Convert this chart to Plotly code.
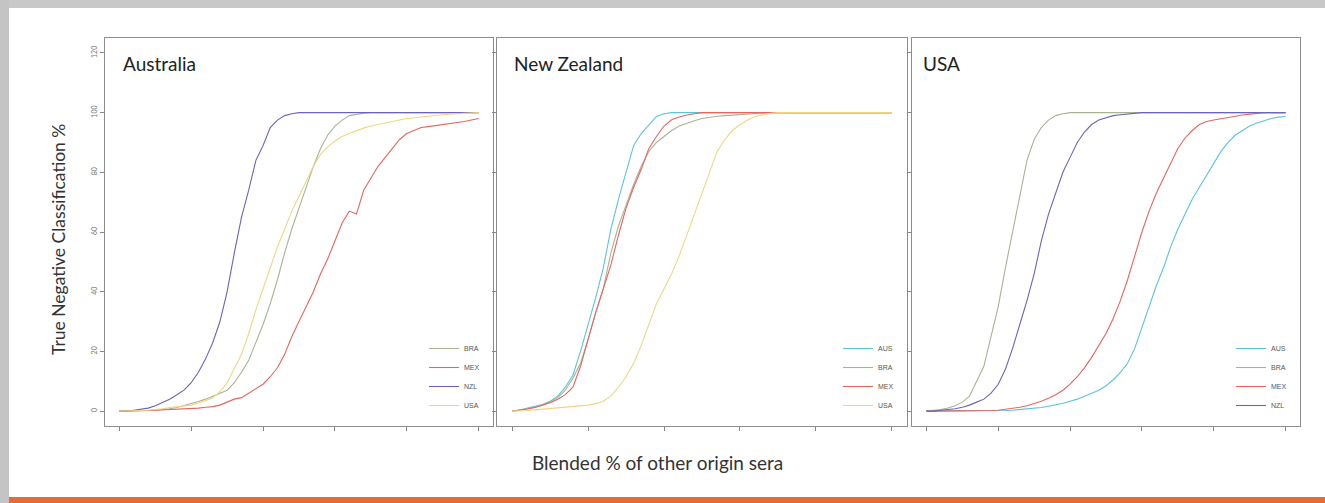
import plotly.graph_objects as go

# ---------------- data ----------------
x_pct = list(range(0, 101, 2))

# Australia panel
aus_bra = [0, 0, 0, 0, 0.2, 0.3, 0.5, 0.8, 1.2, 1.8, 2.5, 3.2, 4, 5, 6, 7, 9.5, 13, 17, 23,
           29, 36, 44, 53, 61, 68, 75, 82, 88, 92.5, 95.5, 97.5, 99, 99.5, 99.8, 100, 100, 100, 100, 100,
           100, 100, 100, 100, 100, 100, 100, 100, 100, 100, 100]
aus_mex = [0, 0, 0, 0.1, 0.2, 0.3, 0.4, 0.5, 0.6, 0.7, 0.8, 1, 1.3, 1.5, 2, 3, 4, 4.5, 6, 7.5,
           9, 11.5, 14.5, 19, 25, 30, 35, 40, 46, 51, 57, 63, 67, 66, 74, 78, 82, 85, 88, 91,
           93, 94, 95, 95.3, 95.6, 96, 96.3, 96.6, 97, 97.5, 98]
aus_nzl = [0, 0, 0.3, 0.7, 1, 1.8, 2.8, 4, 5.5, 7, 9.5, 13, 17.5, 23, 30, 40, 53, 65, 74, 84,
           89, 95, 97.5, 99, 99.6, 100, 100, 100, 100, 100, 100, 100, 100, 100, 100, 100, 100, 100, 100, 100,
           100, 100, 100, 100, 100, 100, 100, 100, 100, 100, 100]
aus_usa = [0, 0, 0, 0.2, 0.3, 0.5, 0.8, 1.2, 1.5, 1.8, 2, 2.8, 3.5, 4.5, 6.5, 9.5, 14, 19, 26, 34,
           41, 48, 55, 61, 67, 72, 77, 82, 86, 88.5, 90.5, 92, 93, 94, 94.8, 95.5, 96, 96.5, 97, 97.6,
           98, 98.3, 98.6, 98.9, 99.1, 99.3, 99.5, 99.6, 99.7, 99.8, 100]

# New Zealand panel
nz_aus = [0, 0.3, 1, 1.5, 2.2, 3.3, 5, 8, 12, 20, 29, 38, 48, 61, 71, 80, 89, 93, 96, 98.7,
          99.6, 100, 100, 100, 100, 100, 100, 100, 100, 100, 100, 100, 100, 100, 100, 100, 100, 100, 100, 100,
          100, 100, 100, 100, 100, 100, 100, 100, 100, 100, 100]
nz_bra = [0, 0.3, 0.8, 1.3, 2, 3, 4.5, 7, 11, 16, 24, 33, 41, 53, 62, 69, 76, 82, 87, 90,
          92, 94, 95.5, 96.5, 97.3, 98, 98.5, 98.8, 99, 99.2, 99.4, 99.6, 99.7, 99.8, 100, 100, 100, 100, 100, 100,
          100, 100, 100, 100, 100, 100, 100, 100, 100, 100, 100]
nz_mex = [0, 0.3, 0.7, 1.2, 2, 2.8, 4, 5.5, 8, 15, 24, 33, 41, 49, 59, 68, 75, 81, 88, 92,
          95.5, 97.6, 98.5, 99.2, 99.6, 100, 100, 100, 100, 100, 100, 100, 100, 100, 100, 100, 100, 100, 100, 100,
          100, 100, 100, 100, 100, 100, 100, 100, 100, 100, 100]
nz_usa = [0, 0, 0.2, 0.4, 0.6, 0.8, 1, 1.2, 1.5, 1.8, 2, 2.5, 3.3, 5, 8, 11.5, 16, 22, 29, 36,
          41, 46, 52, 59, 66, 73, 80, 87, 91, 94, 96, 97.5, 98.7, 99.3, 99.8, 100, 100, 100, 100, 100,
          100, 100, 100, 100, 100, 100, 100, 100, 100, 100, 100]

# USA panel
us_aus = [0, 0, 0, 0, 0, 0, 0, 0, 0, 0.1, 0.1, 0.2, 0.3, 0.5, 0.7, 0.9, 1.2, 1.6, 2, 2.6,
          3.3, 4, 5, 6, 7, 8.5, 10.5, 13, 16, 21, 28, 35, 42, 48, 55, 61, 66, 71, 75, 79,
          83, 87, 90, 92.5, 94, 95.5, 96.5, 97.3, 98, 98.5, 98.7]
us_bra = [0, 0.2, 0.5, 1, 1.8, 3, 5, 10, 15, 25, 35, 48, 60, 71, 84, 91, 95, 97.5, 99, 99.6,
          100, 100, 100, 100, 100, 100, 100, 100, 100, 100, 100, 100, 100, 100, 100, 100, 100, 100, 100, 100,
          100, 100, 100, 100, 100, 100, 100, 100, 100, 100, 100]
us_mex = [0, 0, 0, 0, 0, 0, 0, 0, 0.1, 0.2, 0.3, 0.6, 1, 1.3, 1.8, 2.5, 3.3, 4.3, 5.5, 7,
          9, 11.5, 14.5, 18, 22, 26, 31, 37, 44, 52, 60, 67, 73, 78, 83, 88, 91.5, 94, 96, 97,
          97.5, 98, 98.5, 98.8, 99.2, 99.5, 99.7, 100, 100, 100, 100]
us_nzl = [0, 0, 0.3, 0.5, 0.8, 1.3, 2, 3, 4, 6, 9, 14, 21, 29, 37, 46, 57, 66, 73, 80,
          85, 90, 93.5, 96, 97.5, 98.3, 99, 99.3, 99.6, 99.8, 100, 100, 100, 100, 100, 100, 100, 100, 100, 100,
          100, 100, 100, 100, 100, 100, 100, 100, 100, 100, 100]

panel_titles = ["Australia", "New Zealand", "USA"]
y_ticks = [0, 20, 40, 60, 80, 100, 120]
x_ticks = [0, 20, 40, 60, 80, 100]

colors = {"AUS": "#5cc3d8", "BRA": "#a8b394", "MEX": "#e4665e", "NZL": "#6c64b8", "USA": "#f1d585"}

panels = [
    [("BRA", aus_bra), ("MEX", aus_mex), ("NZL", aus_nzl), ("USA", aus_usa)],
    [("AUS", nz_aus), ("BRA", nz_bra), ("MEX", nz_mex), ("USA", nz_usa)],
    [("AUS", us_aus), ("BRA", us_bra), ("MEX", us_mex), ("NZL", us_nzl)],
]

W, H = 1325, 503
boxes = [(105, 493), (497, 907), (912, 1300)]
top_px, bot_px = 38, 426

fig = go.Figure()
legend_names = ["legend", "legend2", "legend3"]
for i, series in enumerate(panels):
    sfx = "" if i == 0 else str(i + 1)
    for name, vals in series:
        fig.add_trace(go.Scatter(
            x=x_pct, y=vals, mode="lines", name=name,
            line=dict(color=colors[name], width=1.1),
            xaxis="x" + sfx, yaxis="y" + sfx,
            legend=legend_names[i], showlegend=True,
        ))

layout = dict(
    width=W, height=H,
    margin=dict(l=0, r=0, t=0, b=0),
    paper_bgcolor="white", plot_bgcolor="white",
    font=dict(family="Lato, Open Sans, sans-serif", color="#333"),
)

for i, (l, r) in enumerate(boxes):
    sfx = "" if i == 0 else str(i + 1)
    xa = dict(
        domain=[l / W, r / W], range=[-4, 104], tickvals=x_ticks, showticklabels=False,
        ticks="outside", ticklen=4, tickcolor="#888", showgrid=False, zeroline=False,
        showline=True, linecolor="#8c8c8c", linewidth=1.3, mirror=True,
        anchor="y" + sfx, fixedrange=True,
    )
    ya = dict(
        domain=[(H - bot_px) / H, (H - top_px) / H], range=[-5, 125], tickvals=y_ticks,
        showticklabels=(i == 0), tickangle=-90, tickfont=dict(size=7, color="#777"),
        ticks="outside", ticklen=4, tickcolor="#888", showgrid=False, zeroline=False,
        showline=True, linecolor="#8c8c8c", linewidth=1.3, mirror=True,
        anchor="x" + sfx, fixedrange=True,
    )
    layout["xaxis" + sfx] = xa
    layout["yaxis" + sfx] = ya
    layout[legend_names[i]] = dict(
        x=(r - 8) / W, y=(H - bot_px + 6) / H, xanchor="right", yanchor="bottom",
        bgcolor="rgba(0,0,0,0)", font=dict(size=7, color="#555", family="Liberation Sans, Arial"),
        tracegroupgap=0, itemwidth=30,
    )

fig.update_layout(**layout)

title_x = [121, 512, 921]
for t, px in zip(panel_titles, title_x):
    fig.add_annotation(text=t, x=px / W, y=(H - 63) / H, xref="paper", yref="paper",
                       xanchor="left", yanchor="middle", showarrow=False,
                       font=dict(size=19, color="#222", family="Lato, Open Sans, sans-serif"))

fig.add_annotation(text="True Negative Classification %", x=58 / W, y=(H - 240) / H,
                   xref="paper", yref="paper", textangle=-90, showarrow=False,
                   xanchor="center", yanchor="middle",
                   font=dict(size=17.5, color="#333", family="Lato, Open Sans, sans-serif"))
fig.add_annotation(text="Blended % of other origin sera", x=657 / W, y=(H - 462) / H,
                   xref="paper", yref="paper", showarrow=False,
                   xanchor="center", yanchor="middle",
                   font=dict(size=19, color="#333", family="Lato, Open Sans, sans-serif"))

# decorative frame: grey top and left edges, orange bottom band
fig.add_shape(type="rect", xref="paper", yref="paper", x0=0, x1=1, y0=(H - 8) / H, y1=1,
              fillcolor="#c8c8c8", line_width=0, layer="above")
fig.add_shape(type="rect", xref="paper", yref="paper", x0=0, x1=9 / W, y0=0, y1=1,
              fillcolor="#c4c4c4", line_width=0, layer="above")
fig.add_shape(type="rect", xref="paper", yref="paper", x0=9 / W, x1=1, y0=0, y1=6 / H,
              fillcolor="#e36d35", line_width=0, layer="above")

fig.write_html(
    "out.html",
    config={"displayModeBar": False},
    post_script="document.body.style.margin='0';document.body.style.overflow='hidden';",
)
